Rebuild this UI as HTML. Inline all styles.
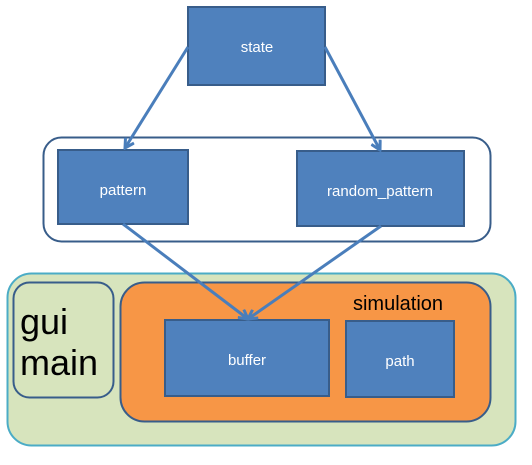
<!DOCTYPE html>
<html><head><style>
body{margin:0;width:532px;height:460px;background:#fff;overflow:hidden}
svg text{font-family:"Liberation Sans",sans-serif}
</style></head><body>
<svg width="532" height="460" viewBox="0 0 532 460">
<defs><marker id="a" markerWidth="12" markerHeight="12" refX="10" refY="6" orient="auto" markerUnits="userSpaceOnUse"><path d="M1,1 L10,6 L1,11" fill="none" stroke="#4a7ebb" stroke-width="3"/></marker></defs>
<rect x="43.5" y="137.5" width="447" height="104" rx="18" fill="#fff" stroke="#385d8a" stroke-width="2"/>
<rect x="7.5" y="273.5" width="508" height="172" rx="24" fill="#d7e4bd" stroke="#4bacc6" stroke-width="2"/>
<rect x="13.5" y="282.5" width="100" height="115" rx="16" fill="#d7e4bd" stroke="#385d8a" stroke-width="2"/>
<rect x="120.5" y="282.5" width="370" height="139" rx="24" fill="#f79646" stroke="#385d8a" stroke-width="2"/>
<g fill="#4f81bd" stroke="#385d8a" stroke-width="2">
<rect x="188" y="7" width="137" height="78"/>
<rect x="58" y="150" width="130" height="74"/>
<rect x="297" y="151" width="167" height="75"/>
<rect x="165" y="320" width="164" height="76"/>
<rect x="346" y="321" width="108" height="76"/>
</g>
<g stroke="#4a7ebb" stroke-width="3" marker-end="url(#a)">
<line x1="188" y1="47" x2="125" y2="148"/>
<line x1="325" y1="47" x2="380" y2="150"/>
<line x1="123" y1="224" x2="248" y2="319"/>
<line x1="381" y1="226" x2="248" y2="319"/>
</g>
<g fill="#fff" font-size="15" text-anchor="middle">
<text x="257" y="52">state</text>
<text x="123" y="195">pattern</text>
<text x="380" y="196">random_pattern</text>
<text x="247" y="365">buffer</text>
<text x="400" y="366">path</text>
</g>
<text x="398" y="310" font-size="20" text-anchor="middle">simulation</text>
<text x="20" y="334" font-size="36">gui</text>
<text x="20" y="375" font-size="36">main</text>
</svg>
</body></html>
